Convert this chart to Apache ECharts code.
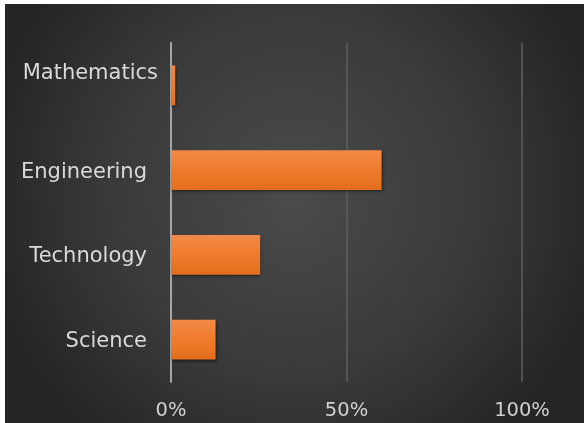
<!DOCTYPE html>
<html>
<head>
<meta charset="utf-8">
<script src="https://cdn.jsdelivr.net/npm/echarts@6/dist/echarts.min.js"></script>
<style>
  html, body { margin: 0; padding: 0; background: #ffffff; }
  #chart { position: absolute; left: 5px; top: 4px; width: 579px; height: 419px; }
</style>
</head>
<body>
<div id="chart"></div>
<script>
// Share of responses by STEM field (percent)
const categories = ['Science', 'Technology', 'Engineering', 'Mathematics'];
const shares = [12.7, 25.4, 60, 1.2];
const xTicks = [0, 50, 100];

const chart = echarts.init(document.getElementById('chart'), null, { renderer: 'canvas' });

const labelFont = '"DejaVu Sans", "Open Sans", sans-serif';

chart.setOption({
  backgroundColor: {
    type: 'radial', x: 0.5, y: 0.45, r: 0.75,
    colorStops: [
      { offset: 0, color: '#4b4b4b' },
      { offset: 0.6, color: '#393939' },
      { offset: 1, color: '#252525' }
    ]
  },
  animation: false,
  grid: { left: 166, right: 62, top: 39, bottom: 41, containLabel: false },
  xAxis: {
    type: 'value',
    min: xTicks[0],
    max: xTicks[xTicks.length - 1],
    interval: xTicks[1] - xTicks[0],
    axisLine: { show: false },
    axisTick: { show: false },
    splitLine: { show: true, lineStyle: { color: '#5f5f5f', width: 1.5 } },
    axisLabel: {
      color: '#d0d0d0',
      fontFamily: labelFont,
      fontSize: 19.5,
      margin: 19,
      formatter: v => v + '%'
    }
  },
  yAxis: {
    type: 'category',
    data: categories,
    axisLine: { show: true, lineStyle: { color: '#a6a6a6', width: 2 } },
    axisTick: { show: false },
    axisLabel: {
      color: '#dadada',
      fontFamily: labelFont,
      fontSize: 21,
      margin: 13,
      formatter: v => v === 'Mathematics' ? '{m|' + v + '}' : '{n|' + v + '}',
      rich: {
        m: { color: '#dadada', fontFamily: labelFont, fontSize: 21, padding: [0, 0, 24, 0] },
        n: { color: '#dadada', fontFamily: labelFont, fontSize: 21, padding: [4, 11, 0, 0] }
      }
    }
  },
  series: [{
    type: 'bar',
    data: shares,
    barCategoryGap: '53%',
    itemStyle: {
      color: {
        type: 'linear', x: 0, y: 0, x2: 0, y2: 1,
        colorStops: [
          { offset: 0, color: '#f28a48' },
          { offset: 0.5, color: '#ef7b2c' },
          { offset: 1, color: '#e36d1c' }
        ]
      },
      shadowColor: 'rgba(0,0,0,0.45)',
      shadowBlur: 3,
      shadowOffsetX: 1,
      shadowOffsetY: 2
    }
  }]
});
</script>
</body>
</html>
